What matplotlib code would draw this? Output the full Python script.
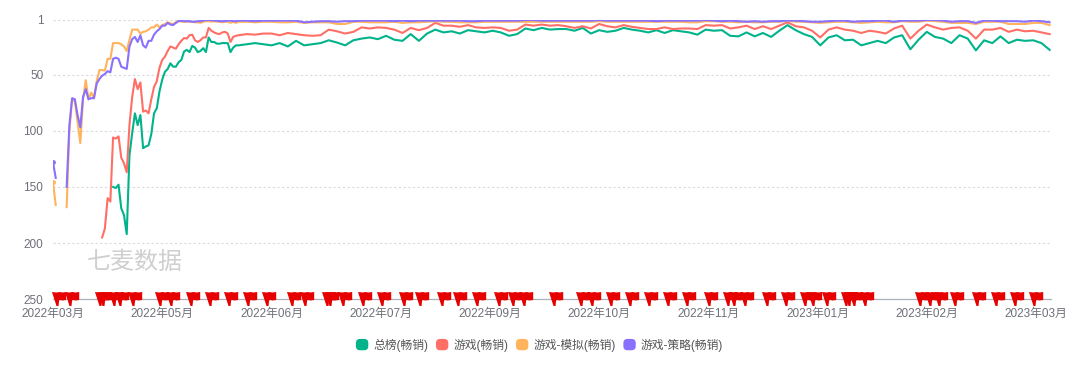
import matplotlib
matplotlib.use("Agg")
import matplotlib.pyplot as plt
from matplotlib.path import Path
from matplotlib.patches import FancyBboxPatch, Patch
from matplotlib.legend_handler import HandlerPatch

nan = float("nan")
W, H = 1080, 376
FONT = ["Liberation Sans", "Noto Sans CJK SC", "DejaVu Sans"]
plt.rcParams["font.family"] = FONT

x_labels = ["2022年03月", "2022年05月", "2022年06月", "2022年07月", "2022年09月",
            "2022年10月", "2022年11月", "2023年01月", "2023年02月", "2023年03月"]
x_label_days = [0, 40, 80, 120, 160, 200, 240, 280, 320, 360]
y_ticks = [1, 50, 100, 150, 200, 250]

# category index of each reading: daily at first, then every third day
days = list(range(68)) + list(range(68, 366, 3))

total_rank = [nan] * 22 + [
    150, 151, 148, 169, 175, 192, 122, 102, 84.5, 95, 86, 115.5, 114, 113, 103, 84.5, 80, 65,
    54.5, 47.5, 45, 40, 43, 43, 39, 37, 29.5, 28, 30, 24.5, 26, 30, 29, 26.5, 30, 17, 21, 21,
    22.5, 22.5, 22, 22, 22, 30, 26, 24,
    24, 23, 22, 23, 24, 22, 25, 20,
    24, 23, 22, 19.5, 21.5, 24, 19.5, 18, 17, 18.5, 15.5, 19, 20, 14, 20, 13.5,
    10, 12.5, 11.5, 13.5, 10.5, 11.5, 12.5, 11, 12.5, 15.5, 14, 9, 10.5, 8.5, 10, 9.5,
    9.5, 11, 8.5, 13.5, 10.5, 12, 11, 8.5, 10, 11, 12.5, 10.5, 13, 10.5, 11.5, 12.5,
    14.5, 10, 11, 10.5, 15.5, 16, 12.5, 16, 13, 16.5, 11, 6, 10.5, 14, 16.5, 24,
    17, 15, 19.5, 19, 24, 22, 20, 22, 17, 15, 27.5, 19, 12, 16.5, 18, 22, 15, 18, 28.5, 19.5,
    22, 16, 22, 19, 20, 19.5, 22, 28]

game_rank = [nan] * 18 + [
    195, 187, 160, 163, 106, 107, 105, 124, 129, 137, 95, 70, 54, 63, 57, 83, 82, 84.5, 72, 61,
    56, 44, 37, 34, 29, 25, 26, 27, 23, 20, 17.5, 18, 15, 14.5, 19.5, 21, 19.5, 17, 17, 8.5,
    11, 12.5, 13.5, 14, 12.5, 12, 13.5, 21, 16.5, 15.5,
    15, 14, 14.5, 13.5, 13.5, 15, 13, 14,
    15, 15.5, 15, 10, 11.5, 13.5, 12, 8, 9, 8, 8.5, 10, 13, 8.5, 10.5, 8.5,
    4, 6.5, 6.5, 7.5, 6, 8, 8.5, 8, 8.5, 11, 10, 5.5, 6.5, 5.5, 6.5, 6,
    7, 8.5, 7, 9, 5, 7, 8, 6, 7.5, 8.5, 9.5, 9.5, 8, 9.5, 9, 9,
    9.5, 6, 6.5, 6, 9, 8, 6.5, 9.5, 7, 9.5, 6.5, 3.5, 7, 8, 11, 17,
    10, 8, 10, 11, 13, 11, 12, 13.5, 9, 6.5, 18, 11, 5.5, 8, 10, 8.5, 8, 11, 18, 10,
    10, 8.5, 12, 10, 11.5, 11, 12.5, 14]

sim_rank = [146, 166, nan, nan, nan,
    168, 100, 72, 74, 92, 111, 72, 55, 72, 66, 71, 56, 46, 46, 46.5, 36, 36, 22, 22, 22, 23, 25,
    29, 19, 10, 10, 10, 13.5, 12, 11.5, 10, 8, 8, 5.5, 8, 6, 5, 3.5, 4.5, 5, 3.5, 2, 3, 3, 3,
    3, 3, 3.5, 3.5, 4, 3, 2.5, 2.5, 3, 2.5, 3, 3, 3.5, 3, 3, 4, 3, 4,
    3, 3, 3.5, 3, 3, 3.5, 3.5, 3,
    4, 3.5, 3.5, 3.5, 5, 5, 3, 3, 3.5, 3.5, 3.5, 3, 4, 3.5, 3.5, 3,
    2.5, 3, 3, 3.5, 3.5, 3.5, 3, 3, 3, 3, 3, 3, 3, 3, 3, 3,
    3, 3, 3, 3, 2.5, 3, 3, 3, 3, 3, 3, 3, 3, 3, 3, 3.5,
    3.5, 2.5, 2.5, 3, 3, 3.5, 3, 3.5, 3.5, 3, 3, 2, 3, 3, 3.5, 4,
    3.5, 3, 3, 3.5, 4, 3.5, 3, 3.5, 3.5, 2.5, 3, 3, 2, 2.5, 3, 4, 4, 4, 5, 3,
    3, 3, 5, 5, 5, 4, 4, 6]

strategy_rank = [128, 142, nan, nan, nan,
    150, 95, 71, 72, 86, 97, 70, 63, 72, 71, 71, 58, 54, 51, 49.5, 47, 48, 36, 35, 36, 43, 44,
    45, 25, 18.5, 16.5, 21, 15, 24, 26, 20, 20, 14.5, 11.5, 9.5, 6.5, 6.5, 4, 5.5, 6, 4, 2.5,
    2, 2.5, 2.5, 2.5, 3, 3, 2.5, 2.5, 2, 1.5, 1.5, 1.5, 2, 2, 2.5, 2.5, 2.5, 2, 2, 2.5, 2.5,
    2, 2, 2.5, 2, 2, 2, 2, 2,
    3.5, 3, 2.5, 2.5, 3, 2.5, 2.5, 2, 2, 2, 2, 2.5, 2, 2.5, 2, 2,
    2, 2, 2, 2, 2.5, 2.5, 2, 2, 2, 2, 2, 1.5, 1.5, 2, 2, 2,
    2, 2, 2, 2, 1.5, 2, 2, 2, 2, 2, 2, 2.5, 2, 2, 2, 2,
    2, 1.5, 2, 2.5, 2, 2.5, 3, 2.5, 3, 2.5, 2.5, 2, 2, 2.5, 3, 3,
    2.5, 2, 2, 3, 2.5, 2.5, 2, 2, 3, 2, 2, 2, 1.5, 1.5, 2, 3, 2.5, 2.5, 4, 2,
    2, 2.5, 2.5, 2.5, 3, 2, 2.5, 3.5]

flag_days = [1, 6, 17, 18, 22, 24, 29, 39, 43, 50, 57, 64, 71, 78, 87, 92, 100, 101, 106, 113,
             120, 128, 134, 142, 148, 155, 163, 168, 172, 183, 193, 197, 204, 211, 218, 225,
             232, 240, 247, 249, 253, 261, 268, 275, 278, 283, 290, 291, 293, 297, 317, 321,
             324, 330, 338, 345, 352, 359]

series_names = ["总榜(畅销)", "游戏(畅销)", "游戏-模拟(畅销)", "游戏-策略(畅销)"]
series_values = [total_rank, game_rank, sim_rank, strategy_rank]
series_colors = ["#00b38a", "#ff6f66", "#ffb35c", "#8a70ff"]

TXT = "#6e7079"
FS = 8.5

fig = plt.figure(figsize=(W / 100, H / 100), dpi=100, facecolor="white")
L, R, T, B = 53, 1051, 19.5, 299.3
ax = fig.add_axes([L / W, 1 - B / H, (R - L) / W, (B - T) / H])
ax.set_xlim(0, 365.5)
ax.set_ylim(250, 1)

for name, vals, col in zip(series_names, series_values, series_colors):
    ax.plot(days, vals, color=col, lw=1.5, solid_joinstyle="round", zorder=3, label=name)
    if vals[0] == vals[0]:
        ax.plot(days[0], vals[0], "o", color=col, ms=3.5, mew=0, zorder=3)

ax.set_yticks(y_ticks)
ax.set_xticks(x_label_days)
ax.set_xticklabels(x_labels)
ax.tick_params(axis="both", length=0, labelsize=FS, labelcolor=TXT)
ax.tick_params(axis="x", pad=6)
ax.tick_params(axis="y", pad=7)
ax.grid(axis="y", color="#d9d9d9", lw=0.8, ls=(0, (2, 2.2)), zorder=0)
ax.grid(axis="x", visible=False)
for s in ["top", "right", "left"]:
    ax.spines[s].set_visible(False)
ax.spines["bottom"].set_color("#aab0bc")
ax.spines["bottom"].set_linewidth(0.9)

# red flag markers on the axis, outline in pixels relative to the axis point
flag = [(0, -6.5), (-4.5, 7.5), (0, 7), (3, 7.5), (6, 7), (9.7, 7.5), (9.7, -0.5),
        (6, -1), (3.6, -0.5), (2.6, -1), (2, -6.5), (0, -6.5)]
rad = max(max(abs(a), abs(b)) for a, b in flag)
flag_path = Path(flag, closed=True)
ax.plot(flag_days, [250] * len(flag_days), ls="none", marker=flag_path,
        ms=2 * rad * 0.72, color="#e60000", mew=0, clip_on=False, zorder=5)

fig.text(87 / W, 1 - 262 / H, "七麦数据", color="#cfcfcf", fontsize=17.3, va="center", ha="left",
         family=["Noto Sans CJK SC"], fontweight="light")


class RoundHandler(HandlerPatch):
    def create_artists(self, legend, orig, xd, yd, w, h, fs, trans):
        p = FancyBboxPatch((-xd + 2, -yd + 2), w - 4, h - 4,
                           boxstyle="round,pad=2,rounding_size=3",
                           fc=orig.get_facecolor(), ec="none", transform=trans)
        return [p]


handles = [Patch(color=c, label=n) for n, c in zip(series_names, series_colors)]
fig.legend(handles=handles, loc="center", bbox_to_anchor=(539.5 / W, 1 - 345 / H), ncol=4,
           frameon=False, fontsize=FS, labelcolor="#555555", borderpad=0, borderaxespad=0,
           handlelength=1.05, handleheight=1.1, handletextpad=0.42, columnspacing=0.65,
           handler_map={Patch: RoundHandler()})

fig.savefig("out.png", dpi=100, facecolor="white")
